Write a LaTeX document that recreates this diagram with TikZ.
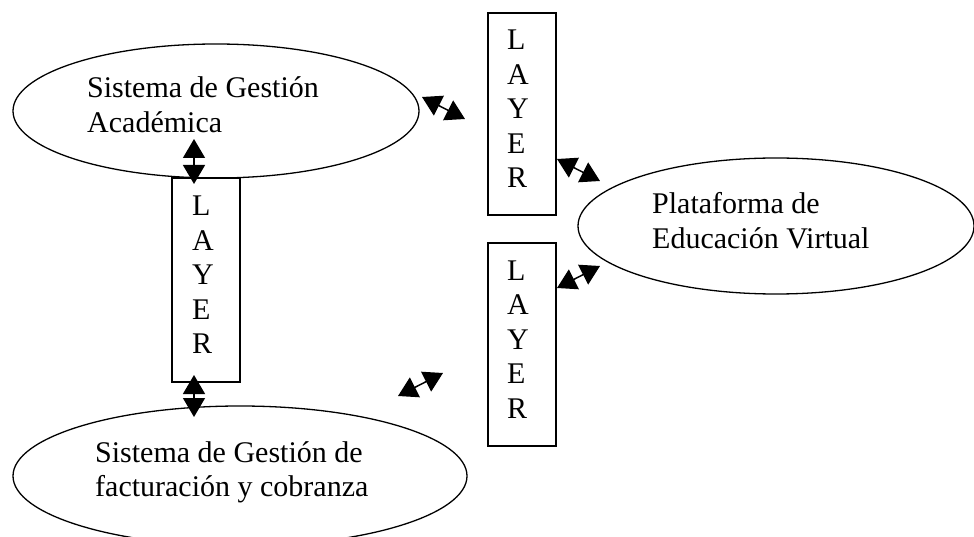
\documentclass[tikz,border=0pt]{standalone}
\usepackage{fontspec}
\setmainfont{Liberation Serif}
\usetikzlibrary{arrows.meta,shapes.geometric}
\tikzset{
  oval/.style={draw, ellipse, line width=1.3pt, inner sep=0pt},
  layerbox/.style={draw, rectangle, line width=1.4pt, inner sep=0pt, minimum width=68pt},
  txt/.style={anchor=base west, inner sep=0pt, font=\fontsize{30}{34.5}\selectfont},
  link/.style={line width=1.5pt, {Triangle[length=19pt,width=22pt]}-{Triangle[length=19pt,width=22pt]}}
}
\begin{document}
\begin{tikzpicture}[x=1pt,y=-1pt]
\fill[white] (0,0) rectangle (974,537);
\useasboundingbox (0,0) rectangle (974,537);
\begin{scope}
\clip (0,0) rectangle (974,537);
% ellipses
\node[oval, minimum width=406pt, minimum height=134pt] (acad) at (216,111) {};
\node[oval, minimum width=396pt, minimum height=136pt] (plat) at (776,226) {};
\node[oval, minimum width=454pt, minimum height=140pt] (fact) at (240,476) {};
\end{scope}
\node[txt] (tacad) at (87,98) {\begin{tabular}[t]{@{}l@{}}Sistema de Gestión\\Académica\end{tabular}};
\node[txt] (tplat) at (652,214) {\begin{tabular}[t]{@{}l@{}}Plataforma de\\Educación Virtual\end{tabular}};
\node[txt] (tfact) at (95,462) {\begin{tabular}[t]{@{}l@{}}Sistema de Gestión de\\facturación y cobranza\end{tabular}};
% layer boxes
\node[layerbox, minimum height=204pt] (lay1) at (206,280) {};
\node[layerbox, minimum height=202pt] (lay2) at (522,114) {};
\node[layerbox, minimum height=203pt] (lay3) at (522,344.5) {};
\node[txt] (tl1) at (192,216) {\begin{tabular}[t]{@{}l@{}}L\\A\\Y\\E\\R\end{tabular}};
\node[txt] (tl2) at (507,50) {\begin{tabular}[t]{@{}l@{}}L\\A\\Y\\E\\R\end{tabular}};
\node[txt] (tl3) at (507,280) {\begin{tabular}[t]{@{}l@{}}L\\A\\Y\\E\\R\end{tabular}};
% arrow end points
\coordinate (v1a) at (194,139);
\coordinate (v1b) at (194,184);
\coordinate (v2a) at (194,375);
\coordinate (v2b) at (194,417);
\coordinate (d1a) at (422,97);
\coordinate (d1b) at (465,119);
\coordinate (d2a) at (557,159);
\coordinate (d2b) at (600,181);
\coordinate (d3a) at (557,288);
\coordinate (d3b) at (600,266);
\coordinate (d4a) at (398,396);
\coordinate (d4b) at (443,373);
% arrows
\draw[link] (v1a) -- (v1b);
\draw[link] (v2a) -- (v2b);
\draw[link] (d1a) -- (d1b);
\draw[link] (d2a) -- (d2b);
\draw[link] (d3a) -- (d3b);
\draw[link] (d4a) -- (d4b);
\end{tikzpicture}
\end{document}
